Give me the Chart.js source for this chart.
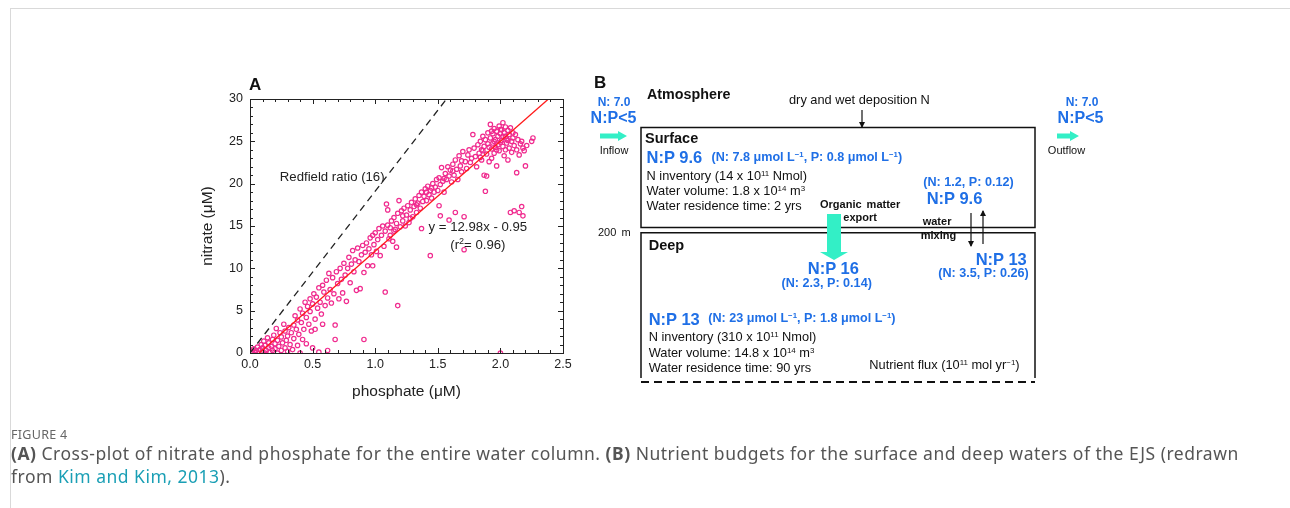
<!DOCTYPE html>
<html>
<head>
<meta charset="utf-8">
<script src="https://cdn.jsdelivr.net/npm/chart.js@4.4.1/dist/chart.umd.min.js"></script>
<style>
  html, body { margin: 0; padding: 0; background: #fff; }
  body { width: 1290px; height: 508px; position: relative; overflow: hidden; font-family: 'Liberation Sans', Arial, sans-serif; }
  .frame { position: absolute; left: 10px; top: 8px; width: 1290px; height: 520px; border-top: 1px solid #d9d9d9; border-left: 1px solid #d9d9d9; }
  #wrapA { position: absolute; left: 195px; top: 75px; width: 385px; height: 330px; }
  .t { position: absolute; white-space: nowrap; line-height: 1; color: #111; font-size: 12.8px; }
  .b { font-weight: bold; }
  .blue { color: #1f6fe6; font-weight: bold; }
  .np { font-size: 16.5px; }
  .sm { font-size: 12.6px; }
  .c { transform: translateX(-50%); }
  sup { font-size: 0.62em; vertical-align: 0; position: relative; top: -0.5em; line-height: 0; }
  svg { position: absolute; left: 0; top: 0; }
  .cap { position: absolute; left: 11px; white-space: nowrap; font-family: 'Noto Sans', 'Open Sans', sans-serif; color: #555; }
</style>
</head>
<body>
<div class="frame"></div>

<div id="wrapA"><canvas id="chartA" width="385" height="330"></canvas></div>
<div class="t b" style="left:249px; top:76px; font-size:17px;">A</div>

<!-- panel B shapes -->
<svg width="1290" height="508">
  <defs>
    <marker id="ah" markerWidth="6" markerHeight="6" refX="5" refY="3" orient="auto" markerUnits="userSpaceOnUse">
      <path d="M0,0 L6,3 L0,6 z" fill="#111"/>
    </marker>
  </defs>
  <rect x="641" y="127.5" width="394" height="100" fill="none" stroke="#111" stroke-width="1.5"/>
  <path d="M641,378 L641,232.7 L1035,232.7 L1035,378" fill="none" stroke="#111" stroke-width="1.5"/>
  <line x1="641" y1="382" x2="1035" y2="382" stroke="#111" stroke-width="2" stroke-dasharray="8,5"/>
  <line x1="862" y1="110" x2="862" y2="127" stroke="#111" stroke-width="1.2" marker-end="url(#ah)"/>
  <line x1="971" y1="213" x2="971" y2="246" stroke="#111" stroke-width="1.2" marker-end="url(#ah)"/>
  <line x1="983" y1="244" x2="983" y2="211" stroke="#111" stroke-width="1.2" marker-end="url(#ah)"/>
  <polygon points="600,133.5 618,133.5 618,131 627,136 618,141 618,138.5 600,138.5" fill="#33efc6"/>
  <polygon points="1057,133.5 1070,133.5 1070,131 1079,136 1070,141 1070,138.5 1057,138.5" fill="#33efc6"/>
  <polygon points="827,214 841,214 841,252 848,252 834,260 820,252 827,252" fill="#33efc6"/>
</svg>

<!-- panel B text -->
<div class="t b" style="left:594px; top:74px; font-size:17px;">B</div>
<div class="t blue c" style="left:614px; top:96px; font-size:12px;">N: 7.0</div>
<div class="t blue c" style="left:613.5px; top:110px; font-size:16px;">N:P&lt;5</div>
<div class="t c" style="left:614px; top:145px; font-size:11px;">Inflow</div>
<div class="t blue c" style="left:1082px; top:96px; font-size:12px;">N: 7.0</div>
<div class="t blue c" style="left:1080.5px; top:110px; font-size:16px;">N:P&lt;5</div>
<div class="t c" style="left:1066.5px; top:145px; font-size:11px;">Outflow</div>

<div class="t b" style="left:647px; top:86.5px; font-size:14.3px;">Atmosphere</div>
<div class="t" style="left:789px; top:94px;">dry and wet deposition N</div>

<div class="t b" style="left:645px; top:130.5px; font-size:14.5px;">Surface</div>
<div class="t blue np" style="left:646.5px; top:149px;">N:P 9.6</div>
<div class="t blue sm" style="left:711.5px; top:151.3px;">(N: 7.8 μmol L<sup>−1</sup>, P: 0.8 μmol L<sup>−1</sup>)</div>
<div class="t" style="left:646.5px; top:170px;">N inventory (14 x 10<sup>11</sup> Nmol)</div>
<div class="t" style="left:646.5px; top:185px;">Water volume: 1.8 x 10<sup>14</sup> m<sup>3</sup></div>
<div class="t" style="left:646.5px; top:200px;">Water residence time: 2 yrs</div>
<div class="t b" style="left:820px; top:198.8px; font-size:11px; word-spacing:2px;">Organic matter</div>
<div class="t b" style="left:843.3px; top:212.2px; font-size:11px;">export</div>

<div class="t blue sm" style="left:923.3px; top:175.5px;">(N: 1.2, P: 0.12)</div>
<div class="t blue np" style="left:926.7px; top:189.5px;">N:P 9.6</div>
<div class="t b" style="left:922.7px; top:216.2px; font-size:11px;">water</div>
<div class="t b" style="left:920.7px; top:229.5px; font-size:11px;">mixing</div>

<div class="t" style="left:598px; top:227px; font-size:11px; word-spacing:2px;">200 m</div>
<div class="t b" style="left:648.7px; top:237.5px; font-size:14.5px;">Deep</div>
<div class="t blue np c" style="left:833.3px; top:260px;">N:P 16</div>
<div class="t blue sm c" style="left:826.7px; top:276.5px;">(N: 2.3, P: 0.14)</div>
<div class="t blue np" style="left:975.7px; top:250.8px;">N:P 13</div>
<div class="t blue sm" style="left:938.3px; top:267px;">(N: 3.5, P: 0.26)</div>

<div class="t blue np" style="left:648.7px; top:311px;">N:P 13</div>
<div class="t blue sm" style="left:708.3px; top:311.8px;">(N: 23 μmol L<sup>−1</sup>, P: 1.8 μmol L<sup>−1</sup>)</div>
<div class="t" style="left:648.7px; top:331px;">N inventory (310 x 10<sup>11</sup> Nmol)</div>
<div class="t" style="left:648.7px; top:346.5px;">Water volume: 14.8 x 10<sup>14</sup> m<sup>3</sup></div>
<div class="t" style="left:648.7px; top:361.5px;">Water residence time: 90 yrs</div>
<div class="t" style="left:869.3px; top:358.8px; font-size:12.8px;">Nutrient flux (10<sup>11</sup> mol yr<sup>−1</sup>)</div>

<!-- caption -->
<div class="cap" style="top:426px; font-size:12.5px; color:#666; letter-spacing:0.3px;">FIGURE 4</div>
<div class="cap" style="top:441px; font-size:17.5px; letter-spacing:0.5px;"><b>(A)</b> Cross-plot of nitrate and phosphate for the entire water column. <b>(B)</b> Nutrient budgets for the surface and deep waters of the EJS (redrawn</div>
<div class="cap" style="top:464px; font-size:17.5px; letter-spacing:0.5px;">from <span style="color:#1a9fb5;">Kim and Kim, 2013</span>).</div>

<script>
// nitrate vs phosphate samples, [phosphate, nitrate] in µM
const samples = [
  [0.01,0.0],[0.02,0.2],[0.03,0.5],[0.04,0.1],[0.05,0.3],[0.06,0.7],[0.07,0.0],[0.08,0.4],[0.09,1.0],[0.10,0.2],
  [0.10,0.6],[0.11,1.4],[0.12,0.0],[0.12,0.9],[0.13,0.3],[0.14,1.8],[0.15,0.6],[0.15,1.2],[0.16,0.1],[0.17,0.8],
  [0.18,1.6],[0.18,0.3],[0.19,2.1],[0.20,0.5],[0.20,1.1],[0.21,2.9],[0.22,0.0],[0.22,1.5],[0.23,0.8],[0.24,2.4],
  [0.25,0.3],[0.25,1.9],[0.26,1.2],[0.27,3.4],[0.28,0.6],[0.28,2.6],[0.29,1.5],[0.30,2.0],[0.30,0.2],[0.31,3.0],
  [0.32,1.0],[0.33,2.4],[0.34,0.4],[0.35,3.3],[0.35,1.7],[0.36,4.4],[0.37,2.8],[0.38,0.9],[0.38,3.9],[0.39,2.2],
  [0.40,0.0],[0.40,5.2],[0.41,3.6],[0.42,1.6],[0.42,4.7],[0.43,2.8],[0.44,6.0],[0.45,4.2],[0.45,1.1],[0.46,5.5],
  [0.47,3.4],[0.48,6.4],[0.48,4.9],[0.49,2.6],[0.50,5.8],[0.50,0.6],[0.51,7.0],[0.52,4.0],[0.52,2.8],[0.53,6.6],
  [0.54,5.3],[0.55,7.7],[0.55,0.1],[0.56,6.0],[0.57,4.6],[0.58,8.0],[0.58,3.4],[0.59,7.2],[0.60,5.6],[0.61,8.6],
  [0.62,6.5],[0.62,0.3],[0.63,9.4],[0.64,7.5],[0.65,5.9],[0.66,8.9],[0.67,7.0],[0.68,1.6],[0.68,3.3],[0.69,9.6],
  [0.70,8.2],[0.71,6.4],[0.72,10.0],[0.73,8.7],[0.74,7.1],[0.75,10.6],[0.76,9.2],[0.77,6.1],[0.78,10.0],[0.79,11.3],
  [0.80,8.3],[0.81,10.5],[0.82,12.1],[0.83,9.6],[0.84,11.0],[0.85,7.4],[0.86,12.4],[0.87,10.8],[0.88,7.6],[0.89,11.6],
  [0.90,12.7],[0.91,1.6],[0.91,9.5],[0.92,11.9],[0.93,13.0],[0.94,10.3],[0.95,12.3],[0.96,13.6],[0.97,11.6],[0.98,10.3],
  [0.98,13.9],[0.99,12.8],[1.00,14.2],[1.01,12.0],[1.02,13.4],[1.03,14.7],[1.04,11.5],[1.05,13.9],[1.06,15.0],[1.07,12.6],
  [1.08,7.2],[1.08,14.4],[1.09,17.6],[1.10,15.1],[1.10,16.9],[1.11,13.5],[1.12,14.8],[1.13,15.6],[1.14,13.2],[1.15,16.0],
  [1.16,14.6],[1.17,12.5],[1.17,15.3],[1.18,5.6],[1.18,16.5],[1.19,18.0],[1.20,14.9],[1.21,16.8],[1.22,15.6],[1.23,17.1],
  [1.24,15.0],[1.25,16.3],[1.26,17.4],[1.27,15.4],[1.28,16.9],[1.29,17.8],[1.30,16.1],[1.31,17.3],[1.32,18.2],[1.33,16.6],
  [1.34,17.7],[1.35,18.6],[1.36,17.1],[1.37,14.7],[1.37,19.0],[1.38,17.9],[1.39,18.5],[1.40,19.4],[1.41,18.0],[1.42,19.7],
  [1.43,18.7],[1.44,11.5],[1.44,19.2],[1.45,18.3],[1.46,20.0],[1.47,19.0],[1.48,19.6],[1.49,20.5],[1.50,19.2],[1.51,17.4],
  [1.51,20.7],[1.52,16.2],[1.52,19.9],[1.53,21.9],[1.54,20.3],[1.55,19.0],[1.56,21.2],[1.57,20.5],[1.58,22.0],[1.59,15.7],
  [1.59,20.9],[1.60,21.6],[1.61,20.2],[1.62,22.3],[1.63,21.0],[1.64,16.6],[1.64,22.8],[1.65,21.7],[1.66,20.5],[1.67,23.3],
  [1.68,22.1],[1.69,21.4],[1.70,23.8],[1.71,16.1],[1.71,12.2],[1.72,22.6],[1.73,21.8],[1.74,23.4],[1.75,24.0],[1.76,22.5],
  [1.77,23.0],[1.78,25.8],[1.79,24.2],[1.80,23.2],[1.81,22.0],[1.82,24.6],[1.83,23.6],[1.84,25.0],[1.85,24.0],[1.85,22.8],
  [1.86,25.6],[1.87,24.4],[1.87,21.0],[1.88,19.1],[1.88,25.2],[1.89,23.5],[1.89,20.9],[1.90,26.0],[1.90,24.7],[1.91,22.6],
  [1.92,25.4],[1.92,27.0],[1.93,24.1],[1.93,23.0],[1.94,25.9],[1.94,24.8],[1.95,26.5],[1.95,23.6],[1.96,25.2],[1.96,24.3],
  [1.97,26.2],[1.97,22.1],[1.98,25.6],[1.98,24.6],[1.99,26.8],[1.99,23.9],[2.00,25.9],[2.00,24.9],[2.00,0.0],[2.01,26.4],
  [2.01,25.1],[2.02,27.2],[2.02,24.4],[2.03,26.0],[2.03,23.3],[2.04,25.6],[2.04,26.7],[2.05,24.8],[2.05,25.3],[2.06,26.3],
  [2.06,22.8],[2.07,25.8],[2.07,24.2],[2.08,26.6],[2.08,16.6],[2.09,25.0],[2.09,23.7],[2.10,25.4],[2.10,26.0],[2.11,16.8],
  [2.11,24.5],[2.12,25.8],[2.13,21.3],[2.13,24.0],[2.14,25.2],[2.15,16.6],[2.15,23.4],[2.16,24.7],[2.17,17.3],[2.17,25.0],
  [2.18,16.2],[2.18,24.2],[2.19,23.9],[2.20,22.1],[2.21,24.5],[2.25,25.0],[2.26,25.4],
  [1.84,23.1],[1.86,23.9],[1.91,24.3],[1.95,25.0],[1.97,24.0],[2.00,26.4],[2.02,25.6],[2.04,24.0],[2.06,25.1],[1.93,26.2],
  [1.12,13.9],[1.15,14.4],[1.22,16.2],[1.28,15.9],[1.33,17.5],[1.41,19.0],[1.45,19.5],[1.55,20.6],[1.62,21.5],[1.69,22.7]
];

// regression line and Redfield line endpoints (as drawn)
const fitLine = [[0.073, 0], [2.384, 30]];
const redfieldLine = [[0, 0], [1.57, 30]];

const xTicks = [0, 0.5, 1.0, 1.5, 2.0, 2.5];
const yTicks = [0, 5, 10, 15, 20, 25, 30];

const toXY = arr => arr.map(p => ({x: p[0], y: p[1]}));
const FONT = '"Liberation Sans", Arial, sans-serif';

// box frame with inward major/minor ticks + text labels
const frameTicks = {
    id: 'frameTicks',
    afterDraw(chart) {
        const {ctx, chartArea: a, scales: {x, y}} = chart;
        ctx.save();
        ctx.strokeStyle = '#222';
        ctx.lineWidth = 1;
        ctx.strokeRect(Math.round(a.left) + 0.5, Math.round(a.top) + 0.5, Math.round(a.right - a.left), Math.round(a.bottom - a.top));
        ctx.beginPath();
        for (let i = 0; i <= 25; i++) {
            const px = Math.round(x.getPixelForValue(i / 10)) + 0.5;
            const len = i % 5 === 0 ? 5 : 3;
            ctx.moveTo(px, a.bottom); ctx.lineTo(px, a.bottom - len);
            ctx.moveTo(px, a.top); ctx.lineTo(px, a.top + len);
        }
        for (let i = 0; i <= 30; i++) {
            const py = Math.round(y.getPixelForValue(i)) + 0.5;
            const len = i % 5 === 0 ? 5 : 3;
            ctx.moveTo(a.left, py); ctx.lineTo(a.left + len, py);
            ctx.moveTo(a.right, py); ctx.lineTo(a.right - len, py);
        }
        ctx.stroke();

        ctx.fillStyle = '#222';
        ctx.font = '13.2px ' + FONT;
        ctx.textBaseline = 'middle';
        ctx.textAlign = 'right';
        ctx.fillText('Redfield ratio (16)', x.getPixelForValue(1.075), y.getPixelForValue(20.7));
        ctx.textAlign = 'center';
        ctx.fillText('y = 12.98x - 0.95', x.getPixelForValue(1.82), y.getPixelForValue(14.8));
        // (r² = 0.96)
        const cx = x.getPixelForValue(1.82), cy = y.getPixelForValue(12.7);
        const s1 = '(r', s3 = '= 0.96)';
        const w1 = ctx.measureText(s1).width, w3 = ctx.measureText(s3).width;
        ctx.font = '9px ' + FONT;
        const w2 = ctx.measureText('2').width;
        const x0 = cx - (w1 + w2 + w3) / 2;
        ctx.textAlign = 'left';
        ctx.fillText('2', x0 + w1, cy - 4);
        ctx.font = '13.2px ' + FONT;
        ctx.fillText(s1, x0, cy);
        ctx.fillText(s3, x0 + w1 + w2, cy);
        ctx.restore();
    }
};

new Chart(document.getElementById('chartA').getContext('2d'), {
    type: 'scatter',
    data: {
        datasets: [
            {
                type: 'line',
                data: toXY(fitLine),
                borderColor: '#ff1a1a',
                borderWidth: 1.3,
                pointRadius: 0,
                fill: false
            },
            {
                type: 'line',
                data: toXY(redfieldLine),
                borderColor: '#222',
                borderWidth: 1.3,
                borderDash: [7, 5],
                pointRadius: 0,
                fill: false
            },
            {
                data: toXY(samples),
                pointStyle: 'circle',
                pointRadius: 2.2,
                borderWidth: 1.2,
                borderColor: '#f02a8e',
                backgroundColor: 'rgba(255,255,255,0)'
            }
        ]
    },
    options: {
        responsive: false,
        animation: false,
        layout: { padding: { top: 24, right: 17, left: 0, bottom: 0 } },
        plugins: { legend: { display: false }, tooltip: { enabled: false } },
        scales: {
            x: {
                type: 'linear',
                min: 0,
                max: 2.5,
                afterBuildTicks: s => { s.ticks = xTicks.map(v => ({value: v})); },
                afterFit: s => { s.height = 52; },
                grid: { display: false, drawTicks: false },
                border: { display: false },
                ticks: {
                    padding: 4,
                    color: '#222',
                    font: { family: FONT, size: 12.5 },
                    callback: v => v.toFixed(1)
                },
                title: {
                    display: true,
                    text: 'phosphate (μM)',
                    color: '#222',
                    font: { family: FONT, size: 15.5 },
                    padding: { top: 2, bottom: 4 }
                }
            },
            y: {
                type: 'linear',
                min: 0,
                max: 30,
                afterBuildTicks: s => { s.ticks = yTicks.map(v => ({value: v})); },
                afterFit: s => { s.width = 55; },
                grid: { display: false, drawTicks: false },
                border: { display: false },
                ticks: {
                    padding: 7,
                    color: '#222',
                    font: { family: FONT, size: 12.5 }
                },
                title: {
                    display: true,
                    text: 'nitrate (μM)',
                    color: '#222',
                    font: { family: FONT, size: 15.5 },
                    padding: { top: 3, bottom: 2 }
                }
            }
        }
    },
    plugins: [frameTicks]
});
</script>
</body>
</html>
